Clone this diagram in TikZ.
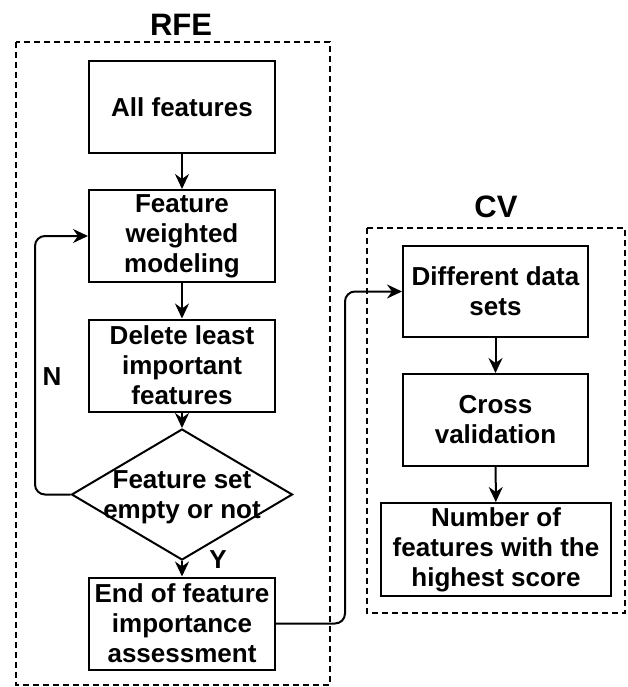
\documentclass[tikz,border=0pt]{standalone}
\usepackage{fontspec}
\setmainfont{Liberation Sans}
\usetikzlibrary{shapes.geometric,arrows.meta}
\begin{document}
\begin{tikzpicture}[x=1pt, y=-1pt,
    every node/.style={font=\fontsize{26}{30}\selectfont\bfseries},
    box/.style={draw, line width=2pt, minimum width=186pt, minimum height=92pt, align=center, inner sep=2pt},
    decision/.style={draw, diamond, line width=2pt, minimum width=221pt, minimum height=131pt, inner sep=0pt},
    group/.style={line width=1.5pt, dash pattern=on 6pt off 4pt},
    link/.style={->, line width=2pt},
    title/.style={font=\fontsize{31}{36}\selectfont\bfseries}]
    \tikzset{>={Stealth[length=15pt, width=14pt, inset=5pt]}}
    \useasboundingbox (0,0) rectangle (627,687);
    % dashed frames
    \draw [group] (16,42) rectangle (330,685);
    \draw [group] (367,228) rectangle (625,613);
    \node [title] (rfe) at (181,25) {RFE};
    \node [title] (cv) at (496,207) {CV};
    % RFE steps
    \node [box] (all) at (182,107) {All features};
    \node [box] (model) at (182,236) {Feature\\weighted\\modeling};
    \node [box] (delete) at (182,365.5) {Delete least\\important\\features};
    \node [decision] (empty) at (182,494.5) {};
    \node [align=center] (emptytxt) at (182,497) {Feature set\\empty or not};
    \node [box] (end) at (182,623.5) {End of feature\\importance\\assessment};
    % CV steps
    \node [box, minimum width=185pt, minimum height=91pt] (data) at (495.5,291.5) {Different data\\sets};
    \node [box, minimum width=185pt] (cross) at (495.5,420) {Cross\\validation};
    \node [box, minimum width=230pt, minimum height=93pt] (best) at (496,549.5) {Number of\\features with the\\highest score};
    % connectors
    \draw [link] (all) -- (model);
    \draw [link] (model) -- (delete);
    \draw [link] (delete) -- (empty);
    \draw [link] (empty) -- (end);
    \draw [link, rounded corners=10pt] (empty.west) -- (35,494.5) |- (model.west);
    \draw [link, rounded corners=10pt] (end.east) -- (345,623.5) |- (data.west);
    \draw [link] (data) -- (cross);
    \draw [link] (cross) -- (best);
    \node (no) at (52,377) {N};
    \node (yes) at (218,560) {Y};
\end{tikzpicture}
\end{document}
